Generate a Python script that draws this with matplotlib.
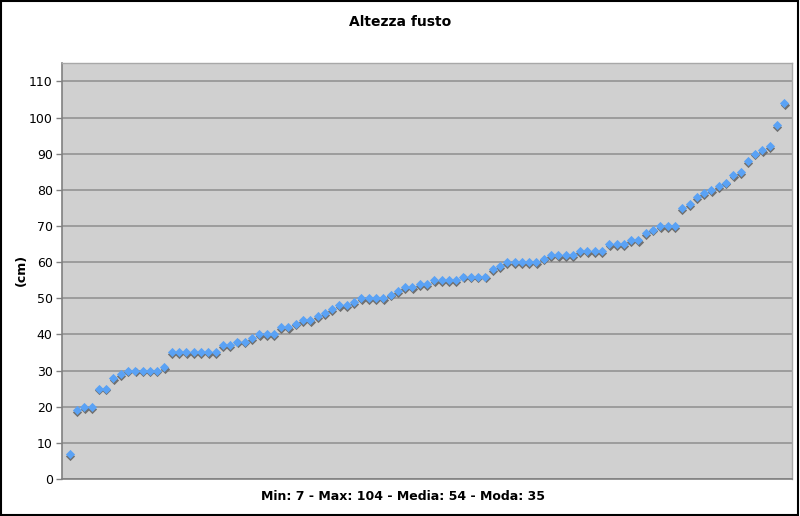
import matplotlib
matplotlib.use("Agg")
import matplotlib.pyplot as plt
import matplotlib.transforms as mtransforms
from matplotlib.patches import Rectangle

# altezza del fusto per pianta (cm), ordinata
heights = [
    7, 19, 20, 20, 25, 25, 28, 29, 30, 30, 30, 30, 30, 31,
    35, 35, 35, 35, 35, 35, 35, 37, 37, 38, 38, 39, 40, 40, 40,
    42, 42, 43, 44, 44, 45, 46, 47, 48, 48, 49, 50, 50, 50, 50,
    51, 52, 53, 53, 54, 54, 55, 55, 55, 55, 56, 56, 56, 56,
    58, 59, 60, 60, 60, 60, 60, 61, 62, 62, 62, 62, 63, 63, 63, 63,
    65, 65, 65, 66, 66, 68, 69, 70, 70, 70,
    75, 76, 78, 79, 80, 81, 82, 84, 85, 88, 90, 91, 92, 98, 104,
]
plants = list(range(1, len(heights) + 1))
y_ticks = list(range(0, 111, 10))

title = "Altezza fusto"
y_label = "(cm)"
x_label = "Min: 7 - Max: 104 - Media: 54 - Moda: 35"

fig = plt.figure(figsize=(8, 5.16), dpi=100)
ax = fig.add_axes([0.078, 0.0717, 0.9115, 0.8056])
ax.set_facecolor("#d0d0d0")

# ombra sotto i marker
shadow = mtransforms.offset_copy(ax.transData, fig=fig, x=0.2, y=-1.3, units="points")
ax.scatter(plants, heights, marker="D", s=22, color="#707070", linewidths=0,
           transform=shadow, zorder=3)
ax.scatter(plants, heights, marker="D", s=22, color="#5aa2f5", linewidths=0, zorder=4)

ax.set_xlim(0, 100)
ax.set_ylim(0, 115)
ax.set_yticks(y_ticks)
ax.set_xticks([])
ax.grid(axis="y", color="#8e8e8e", linewidth=1.1)
ax.set_axisbelow(True)

for side in ["top", "right"]:
    ax.spines[side].set_color("#a8a8a8")
    ax.spines[side].set_linewidth(1.0)
ax.spines["left"].set_color("#808080")
ax.spines["bottom"].set_color("#808080")
ax.spines["left"].set_linewidth(1.2)
ax.spines["bottom"].set_linewidth(1.2)
ax.tick_params(axis="y", length=4, width=1, color="#808080", labelsize=9, pad=3)

fig.text(0.5, 1 - 22 / 516, title, fontsize=10, fontweight="bold",
         ha="center", va="center")
fig.text(21 / 800, 1 - 270 / 516, y_label, fontsize=9, fontweight="bold",
         rotation=90, ha="center", va="center")
fig.text(403 / 800, 1 - 497 / 516, x_label, fontsize=9, fontweight="bold",
         ha="center", va="center")

fig.patches.append(Rectangle((0.001, 0.002), 0.997, 0.996, transform=fig.transFigure,
                             fill=False, edgecolor="black", linewidth=1.5))

fig.savefig("out.png", dpi=100, facecolor="white")
